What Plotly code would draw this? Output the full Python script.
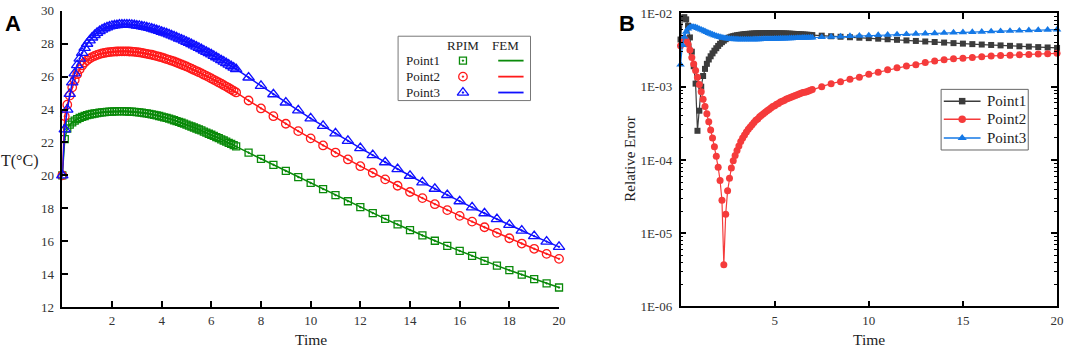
import plotly.graph_objects as go

W, H = 1072, 355
SERIF = "Liberation Serif"

# ---------------- data ----------------
time = [0.0, 0.1, 0.2, 0.3, 0.4, 0.5, 0.6, 0.7, 0.8, 0.9,
        1.0, 1.1, 1.2, 1.3, 1.4, 1.5, 1.6, 1.7, 1.8, 1.9,
        2.0, 2.1, 2.2, 2.3, 2.4, 2.5, 2.6, 2.7, 2.8, 2.9,
        3.0, 3.1, 3.2, 3.3, 3.4, 3.5, 3.6, 3.7, 3.8, 3.9,
        4.0, 4.1, 4.2, 4.3, 4.4, 4.5, 4.6, 4.7, 4.8, 4.9,
        5.0, 5.1, 5.2, 5.3, 5.4, 5.5, 5.6, 5.7, 5.8, 5.9,
        6.0, 6.1, 6.2, 6.3, 6.4, 6.5, 6.6, 6.7, 6.8, 6.9,
        7.0,
        7.5, 8.0, 8.5, 9.0, 9.5, 10.0, 10.5, 11.0, 11.5, 12.0,
        12.5, 13.0, 13.5, 14.0, 14.5, 15.0, 15.5, 16.0, 16.5, 17.0,
        17.5, 18.0, 18.5, 19.0, 19.5, 20.0]

temp_point1 = [20.00, 22.20, 22.85, 23.08, 23.22, 23.33, 23.42, 23.50, 23.56, 23.61,
               23.66, 23.70, 23.73, 23.76, 23.79, 23.81, 23.83, 23.85, 23.86, 23.87,
               23.88, 23.89, 23.89, 23.90, 23.90, 23.89, 23.89, 23.88, 23.87, 23.86,
               23.85, 23.83, 23.81, 23.79, 23.77, 23.74, 23.71, 23.68, 23.65, 23.61,
               23.57, 23.53, 23.49, 23.45, 23.40, 23.35, 23.30, 23.25, 23.20, 23.15,
               23.09, 23.03, 22.97, 22.91, 22.85, 22.79, 22.73, 22.66, 22.60, 22.53,
               22.47, 22.40, 22.33, 22.26, 22.19, 22.12, 22.05, 21.98, 21.91, 21.84,
               21.76,
               21.38, 21.01, 20.64, 20.27, 19.90, 19.54, 19.17, 18.80, 18.43, 18.07,
               17.71, 17.36, 17.02, 16.68, 16.35, 16.03, 15.72, 15.41, 15.11, 14.81,
               14.52, 14.24, 13.97, 13.70, 13.44, 13.19]

temp_point2 = [20.00, 23.60, 24.30, 24.85, 25.35, 25.80, 26.15, 26.45, 26.68, 26.86,
               27.00, 27.10, 27.19, 27.26, 27.32, 27.37, 27.41, 27.44, 27.47, 27.49,
               27.51, 27.52, 27.53, 27.54, 27.54, 27.54, 27.54, 27.53, 27.52, 27.51,
               27.49, 27.47, 27.45, 27.42, 27.39, 27.36, 27.33, 27.29, 27.25, 27.21,
               27.17, 27.12, 27.07, 27.02, 26.97, 26.92, 26.86, 26.80, 26.74, 26.68,
               26.62, 26.55, 26.48, 26.41, 26.34, 26.27, 26.20, 26.12, 26.05, 25.97,
               25.89, 25.81, 25.73, 25.65, 25.57, 25.48, 25.40, 25.31, 25.22, 25.13,
               25.04,
               24.55, 24.07, 23.60, 23.14, 22.69, 22.25, 21.82, 21.39, 20.97, 20.56,
               20.16, 19.76, 19.37, 18.99, 18.62, 18.25, 17.89, 17.54, 17.19, 16.85,
               16.51, 16.18, 15.86, 15.54, 15.23, 14.93]

temp_point3 = [20.00, 22.80, 24.00, 24.95, 25.65, 26.20, 26.70, 27.10, 27.45, 27.75,
               28.00, 28.20, 28.38, 28.53, 28.66, 28.77, 28.86, 28.94, 29.00, 29.05,
               29.09, 29.12, 29.14, 29.16, 29.17, 29.17, 29.17, 29.16, 29.15, 29.13,
               29.11, 29.09, 29.06, 29.03, 29.00, 28.96, 28.92, 28.88, 28.83, 28.78,
               28.73, 28.68, 28.63, 28.57, 28.51, 28.45, 28.39, 28.32, 28.26, 28.19,
               28.12, 28.05, 27.98, 27.90, 27.83, 27.75, 27.67, 27.59, 27.51, 27.43,
               27.35, 27.26, 27.18, 27.09, 27.00, 26.91, 26.82, 26.73, 26.64, 26.55,
               26.46,
               25.95, 25.44, 24.93, 24.43, 23.95, 23.47, 23.01, 22.55, 22.10, 21.66,
               21.23, 20.80, 20.38, 19.98, 19.58, 19.19, 18.81, 18.43, 18.06, 17.70,
               17.34, 16.99, 16.65, 16.31, 15.98, 15.66]

err_point1 = [4.4e-3, 8.6e-3, 8.9e-3, 8.3e-3, 6.8e-3, 4.7e-3, 3.0e-3, 1.9e-3, 1.1e-3, 2.5e-4,
              4.7e-4, 1.0e-3, 1.4e-3, 1.75e-3, 2.05e-3, 2.35e-3, 2.6e-3, 2.85e-3, 3.1e-3, 3.35e-3,
              3.6e-3, 3.85e-3, 4.05e-3, 4.25e-3, 4.45e-3, 4.6e-3, 4.72e-3, 4.82e-3, 4.9e-3, 4.97e-3,
              5.03e-3, 5.08e-3, 5.12e-3, 5.16e-3, 5.2e-3, 5.23e-3, 5.26e-3, 5.28e-3, 5.3e-3, 5.32e-3,
              5.34e-3, 5.35e-3, 5.36e-3, 5.37e-3, 5.37e-3, 5.38e-3, 5.38e-3, 5.38e-3, 5.38e-3, 5.38e-3,
              5.37e-3, 5.37e-3, 5.36e-3, 5.35e-3, 5.34e-3, 5.33e-3, 5.32e-3, 5.30e-3, 5.29e-3, 5.27e-3,
              5.26e-3, 5.24e-3, 5.22e-3, 5.20e-3, 5.18e-3, 5.16e-3, 5.14e-3, 5.12e-3, 5.10e-3, 5.08e-3,
              5.06e-3,
              4.97e-3, 4.88e-3, 4.80e-3, 4.73e-3, 4.66e-3, 4.60e-3, 4.52e-3, 4.44e-3, 4.36e-3, 4.28e-3,
              4.21e-3, 4.14e-3, 4.07e-3, 4.00e-3, 3.93e-3, 3.87e-3, 3.81e-3, 3.76e-3, 3.71e-3, 3.66e-3,
              3.61e-3, 3.56e-3, 3.52e-3, 3.47e-3, 3.43e-3, 3.38e-3]

err_point2 = [3.63e-3, 4.47e-3, 4.57e-3, 4.27e-3, 3.80e-3, 3.16e-3, 2.51e-3, 2.04e-3, 1.66e-3, 1.35e-3,
              1.07e-3, 8.51e-4, 6.76e-4, 5.37e-4, 4.27e-4, 3.31e-4, 2.57e-4, 2.00e-4, 1.51e-4, 1.12e-4,
              7.94e-5, 5.25e-5, 2.82e-5, 3.72e-6, 1.82e-5, 3.80e-5, 5.62e-5, 7.76e-5, 9.77e-5, 1.15e-4,
              1.35e-4, 1.55e-4, 1.78e-4, 2.00e-4, 2.19e-4, 2.40e-4, 2.63e-4, 2.82e-4, 3.02e-4, 3.24e-4,
              3.47e-4, 3.63e-4, 3.89e-4, 4.07e-4, 4.27e-4, 4.47e-4, 4.68e-4, 4.90e-4, 5.13e-4, 5.37e-4,
              5.50e-4, 5.75e-4, 5.89e-4, 6.17e-4, 6.31e-4, 6.46e-4, 6.76e-4, 6.92e-4, 7.08e-4, 7.24e-4,
              7.41e-4, 7.59e-4, 7.76e-4, 7.94e-4, 8.13e-4, 8.32e-4, 8.41e-4, 8.51e-4, 8.71e-4, 8.91e-4,
              9.12e-4,
              1.00e-3, 1.10e-3, 1.17e-3, 1.26e-3, 1.35e-3, 1.48e-3, 1.58e-3, 1.70e-3, 1.82e-3, 1.91e-3,
              2.00e-3, 2.14e-3, 2.24e-3, 2.34e-3, 2.40e-3, 2.45e-3, 2.51e-3, 2.57e-3, 2.63e-3, 2.66e-3,
              2.69e-3, 2.72e-3, 2.75e-3, 2.79e-3, 2.82e-3, 2.85e-3]

err_point3 = [2.0e-3, 3.7e-3, 4.8e-3, 5.6e-3, 6.2e-3, 6.5e-3, 6.6e-3, 6.55e-3, 6.45e-3, 6.3e-3,
              6.15e-3, 6.0e-3, 5.85e-3, 5.7e-3, 5.55e-3, 5.4e-3, 5.27e-3, 5.15e-3, 5.03e-3, 4.93e-3,
              4.84e-3, 4.76e-3, 4.69e-3, 4.63e-3, 4.58e-3, 4.54e-3, 4.51e-3, 4.48e-3, 4.46e-3, 4.44e-3,
              4.43e-3, 4.42e-3, 4.41e-3, 4.41e-3, 4.41e-3, 4.41e-3, 4.41e-3, 4.42e-3, 4.42e-3, 4.43e-3,
              4.43e-3, 4.44e-3, 4.44e-3, 4.45e-3, 4.46e-3, 4.46e-3, 4.47e-3, 4.48e-3, 4.49e-3, 4.49e-3,
              4.50e-3, 4.51e-3, 4.52e-3, 4.53e-3, 4.53e-3, 4.54e-3, 4.55e-3, 4.56e-3, 4.57e-3, 4.58e-3,
              4.59e-3, 4.60e-3, 4.61e-3, 4.62e-3, 4.63e-3, 4.64e-3, 4.65e-3, 4.66e-3, 4.67e-3, 4.68e-3,
              4.69e-3,
              4.74e-3, 4.79e-3, 4.84e-3, 4.90e-3, 4.95e-3, 5.00e-3, 5.06e-3, 5.11e-3, 5.16e-3, 5.21e-3,
              5.26e-3, 5.31e-3, 5.36e-3, 5.41e-3, 5.47e-3, 5.52e-3, 5.57e-3, 5.62e-3, 5.67e-3, 5.72e-3,
              5.77e-3, 5.82e-3, 5.87e-3, 5.92e-3, 5.97e-3, 6.02e-3]

series_names = ["Point1", "Point2", "Point3"]
a_ticks_x = [2, 4, 6, 8, 10, 12, 14, 16, 18, 20]
a_ticks_y = [12, 14, 16, 18, 20, 22, 24, 26, 28, 30]
b_ticks_x = [5, 10, 15, 20]
b_ticks_y = [1e-2, 1e-3, 1e-4, 1e-5, 1e-6]
b_ticktext = ["1E-02", "1E-03", "1E-04", "1E-05", "1E-06"]
b_minor = [m * 10.0 ** e for e in (-6, -5, -4, -3) for m in (2, 3, 4, 5, 6, 7, 8, 9)]

# ---------------- styles ----------------
colA = ["#0a8a0a", "#ff1a1a", "#1010ff"]
symA = ["square-open-dot", "circle-open-dot", "triangle-up-open-dot"]
sizeA = [7, 8.5, 10]
colB = ["#3c3c3c", "#f53b3b", "#1478e6"]
symB = ["square", "circle", "triangle-up"]
sizeB = [6, 7, 7.5]

fig = go.Figure()

temps = [temp_point1, temp_point2, temp_point3]
for i in range(3):
    fig.add_trace(go.Scatter(x=time, y=temps[i], mode="lines", xaxis="x", yaxis="y",
                             line=dict(color=colA[i], width=1.5), showlegend=False,
                             cliponaxis=False, hoverinfo="skip"))
    fig.add_trace(go.Scatter(x=time, y=temps[i], mode="markers", xaxis="x", yaxis="y",
                             marker=dict(symbol=symA[i], size=sizeA[i], color=colA[i],
                                         line=dict(width=1.3, color=colA[i])),
                             showlegend=False, cliponaxis=False))

errs = [err_point1, err_point2, err_point3]
for i in range(3):
    fig.add_trace(go.Scatter(x=time, y=errs[i], mode="lines+markers", name=series_names[i],
                             xaxis="x2", yaxis="y2",
                             line=dict(color=colB[i], width=1.2),
                             marker=dict(symbol=symB[i], size=sizeB[i], color=colB[i]),
                             showlegend=False, cliponaxis=False))

# legend glyphs (pixel-space helper axis spanning the whole figure)
legA_rows = [56, 72.7, 89.3]
legB_rows = [98.3, 117.3, 136.7]
for i in range(3):
    fig.add_trace(go.Scatter(x=[466], y=[legA_rows[i]], mode="markers", xaxis="x3", yaxis="y3",
                             marker=dict(symbol=symA[i], size=sizeA[i], color=colA[i],
                                         line=dict(width=1.3, color=colA[i])),
                             showlegend=False, hoverinfo="skip"))
    fig.add_trace(go.Scatter(x=[501.5, 527], y=[legA_rows[i], legA_rows[i]], mode="lines",
                             xaxis="x3", yaxis="y3", line=dict(color=colA[i], width=1.8),
                             showlegend=False, hoverinfo="skip"))
    fig.add_trace(go.Scatter(x=[950, 987], y=[legB_rows[i], legB_rows[i]], mode="lines",
                             xaxis="x3", yaxis="y3", line=dict(color=colB[i], width=1.5),
                             showlegend=False, hoverinfo="skip"))
    fig.add_trace(go.Scatter(x=[968.5], y=[legB_rows[i]], mode="markers", xaxis="x3", yaxis="y3",
                             marker=dict(symbol=symB[i], size=sizeB[i] + 0.5, color=colB[i]),
                             showlegend=False, hoverinfo="skip"))

axis_common = dict(showline=True, linecolor="black", linewidth=1.5, ticks="inside",
                   ticklen=6, tickwidth=1.5, tickcolor="black", showgrid=False, zeroline=False,
                   ticklabeloverflow="allow")

fig.update_layout(
    width=W, height=H,
    margin=dict(l=0, r=0, t=0, b=0),
    paper_bgcolor="white", plot_bgcolor="rgba(0,0,0,0)",
    showlegend=False,
    xaxis=dict(domain=[62.7 / W, 562.7 / W], range=[0, 20], tickvals=a_ticks_x, anchor="y",
               ticklabelstandoff=1,
               tickfont=dict(family=SERIF, size=13, color="#333"), **axis_common),
    yaxis=dict(domain=[1 - 313.3 / H, 1 - 4 / H], range=[12, 30], tickvals=a_ticks_y, anchor="x",
               ticklabelstandoff=4,
               tickfont=dict(family=SERIF, size=13, color="#333"), **axis_common),
    xaxis2=dict(domain=[685 / W, 1064 / W], range=[0, 20], tickvals=b_ticks_x, anchor="y2",
                mirror="ticks", ticklabelstandoff=1,
                tickfont=dict(family=SERIF, size=13, color="#333"), **axis_common),
    yaxis2=dict(domain=[1 - 312.7 / H, 1 - 6.7 / H], type="log", range=[-6, -2], anchor="x2",
                tickvals=b_ticks_y, ticktext=b_ticktext, mirror="ticks", ticklabelstandoff=4,
                minor=dict(tickvals=b_minor, ticks="inside", ticklen=3, tickcolor="black", tickwidth=1),
                tickfont=dict(family=SERIF, size=13, color="#333"), **axis_common),
    xaxis3=dict(domain=[0, 1], range=[0, W], visible=False, anchor="y3", fixedrange=True),
    yaxis3=dict(domain=[0, 1], range=[H, 0], visible=False, anchor="x3", fixedrange=True),
)

shapes = [
    dict(type="rect", xref="paper", yref="paper", x0=400.7 / W, x1=534 / W,
         y0=1 - 97.7 / H, y1=1 - 30.5 / H, line=dict(color="#777", width=1),
         fillcolor="white", layer="below"),
    dict(type="rect", xref="paper", yref="paper", x0=947.3 / W, x1=1035 / W,
         y0=1 - 149.3 / H, y1=1 - 86 / H, line=dict(color="#666", width=1),
         fillcolor="white", layer="below"),
]
fig.update_layout(shapes=shapes)


def ann(text, x, y, size=15, xanchor="center", yanchor="middle", angle=0, family=SERIF, color="#222"):
    return dict(text=text, x=x / W, y=1 - y / H, xref="paper", yref="paper", showarrow=False,
                xanchor=xanchor, yanchor=yanchor, textangle=angle,
                font=dict(family=family, size=size, color=color))


annotations = [
    ann("<b>A</b>", 3, 2, size=22, xanchor="left", yanchor="top", family="Liberation Sans", color="black"),
    ann("<b>B</b>", 621, 2, size=22, xanchor="left", yanchor="top", family="Liberation Sans", color="black"),
    ann("T(°C)", 20, 161, size=16),
    ann("Time", 312.7, 347, size=15.5),
    ann("Time", 874.5, 347, size=15.5),
    ann("Relative Error", 634, 158.5, size=15, angle=-90),
    ann("RPIM", 465.7, 40, size=13),
    ann("FEM", 509, 40, size=13),
]
for i in range(3):
    annotations.append(ann(series_names[i], 407, legA_rows[i], size=13, xanchor="left"))
    annotations.append(ann(series_names[i], 991.5, legB_rows[i], size=15, xanchor="left"))
fig.update_layout(annotations=annotations)

fig.write_html("out.html", config={"displayModeBar": False},
               post_script="document.body.style.margin='0';document.body.style.overflow='hidden';")
